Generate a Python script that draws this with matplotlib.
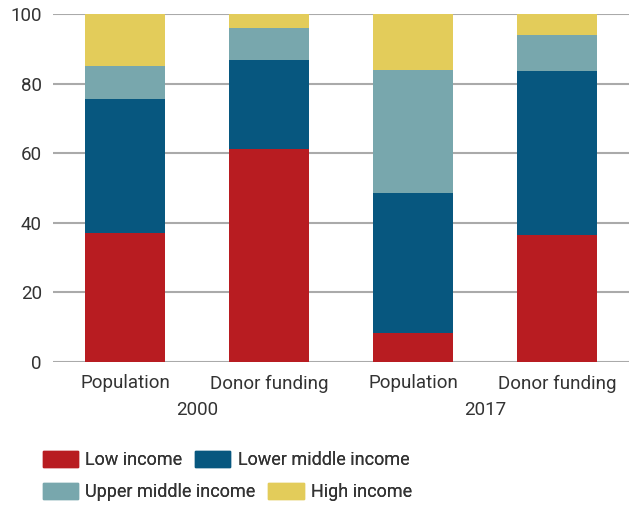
import matplotlib.pyplot as plt
import matplotlib.patches as mpatches
import numpy as np

plt.rcParams['font.family'] = ['Roboto', 'DejaVu Sans']

categories = ['Population', 'Donor funding', 'Population', 'Donor funding']
years = ['2000', '2017']
low_income = [37.0, 61.2, 8.4, 36.4]
lower_middle = [38.6, 25.6, 40.3, 47.3]
upper_middle = [9.5, 9.2, 35.3, 10.4]
high_income = [14.9, 4.0, 16.0, 5.9]

series = [
    ('Low income', low_income, '#B81C21'),
    ('Lower middle income', lower_middle, '#07577F'),
    ('Upper middle income', upper_middle, '#78A7AD'),
    ('High income', high_income, '#E3CC5A'),
]

text_color = '#333333'
fs = 13.5

fig = plt.figure(figsize=(6.35, 5.05), dpi=100)
ax = fig.add_axes([53 / 635, 1 - 362 / 505, 576 / 635, 348 / 505])

x = np.arange(len(categories))
bottom = np.zeros(len(categories))
for name, vals, color in series:
    ax.bar(x, vals, 0.555, bottom=bottom, color=color, label=name, zorder=3)
    bottom += np.array(vals)

ax.set_xlim(-0.5, 3.5)
ax.set_ylim(0, 100)
ax.set_yticks(np.arange(0, 101, 20))
ax.grid(axis='y', color='#aaaaaa', linewidth=1.5, zorder=0)
for s in ax.spines.values():
    s.set_visible(False)
ax.set_xticks(x)
ax.set_xticklabels(categories)
ax.tick_params(axis='both', length=0, labelsize=fs, labelcolor=text_color)
ax.tick_params(axis='x', pad=9)
ax.tick_params(axis='y', pad=8)

for i, yr in enumerate(years):
    ax.text(2 * i + 0.5, -13.9, yr, ha='center', va='center',
            fontsize=fs, color=text_color, transform=ax.transData)

handles = [mpatches.Patch(color=c, label=n) for n, _, c in series]
for row, y in [(handles[:2], 460), (handles[2:], 492)]:
    leg = fig.legend(handles=row, loc='center left', ncol=2,
                     bbox_to_anchor=(43 / 635, 1 - y / 505),
                     frameon=False, fontsize=13, handlelength=1.95,
                     handleheight=1.0, handletextpad=0.4, columnspacing=0.7,
                     borderpad=0, borderaxespad=0, labelcolor=text_color)
    fig.add_artist(leg)

fig.savefig('out.png', dpi=100)
